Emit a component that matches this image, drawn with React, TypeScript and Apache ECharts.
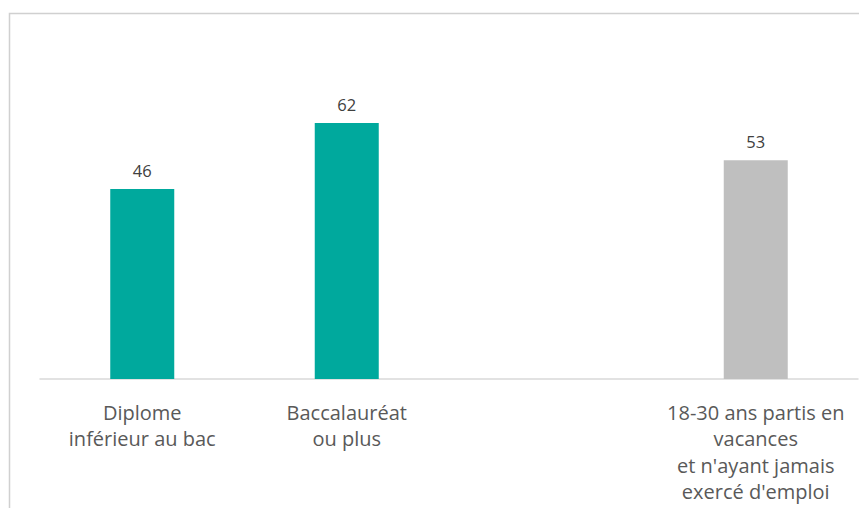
import React, { useEffect, useRef } from "react";
import * as echarts from "echarts";

const categories = [
  "Diplome\ninférieur au bac",
  "Baccalauréat\nou plus",
  "",
  "18-30 ans partis en\nvacances\net n'ayant jamais\nexercé d'emploi",
];
const values: (number | null)[] = [46, 62, null, 53];
const barColors = ["#00A99D", "#00A99D", "#00A99D", "#BFBFBF"];

export default function App() {
  const ref = useRef<HTMLDivElement>(null);
  useEffect(() => {
    document.body.style.margin = "0";
    const chart = echarts.init(ref.current!, undefined, { renderer: "svg" });
    chart.setOption({
      animation: false,
      backgroundColor: "#ffffff",
      textStyle: { fontFamily: "Open Sans" },
      graphic: [
        {
          type: "rect",
          left: 7,
          top: 11,
          shape: { width: 1000, height: 700 },
          style: { fill: "none", stroke: "#d0d0d0", lineWidth: 1.5 },
          silent: true,
        },
      ],
      grid: { left: 40, right: 1, top: 90, bottom: 129, containLabel: false },
      xAxis: {
        type: "category",
        data: categories,
        axisLine: { show: true, lineStyle: { color: "#d9d9d9", width: 1.5 } },
        axisTick: { show: false },
        axisLabel: {
          interval: 0,
          color: "#595959",
          fontSize: 20,
          lineHeight: 26.5,
          margin: 20,
          fontFamily: "Open Sans",
        },
      },
      yAxis: {
        type: "value",
        min: 0,
        max: 70,
        show: false,
        splitLine: { show: false },
      },
      series: [
        {
          type: "bar",
          barWidth: 64,
          data: values.map((v, i) => ({ value: v, itemStyle: { color: barColors[i] } })),
          label: {
            show: true,
            position: "top",
            distance: 10,
            color: "#404040",
            fontSize: 16.5,
            fontFamily: "Open Sans",
          },
        },
      ],
    });
    return () => chart.dispose();
  }, []);
  return <div ref={ref} style={{ width: 859, height: 508 }} />;
}
